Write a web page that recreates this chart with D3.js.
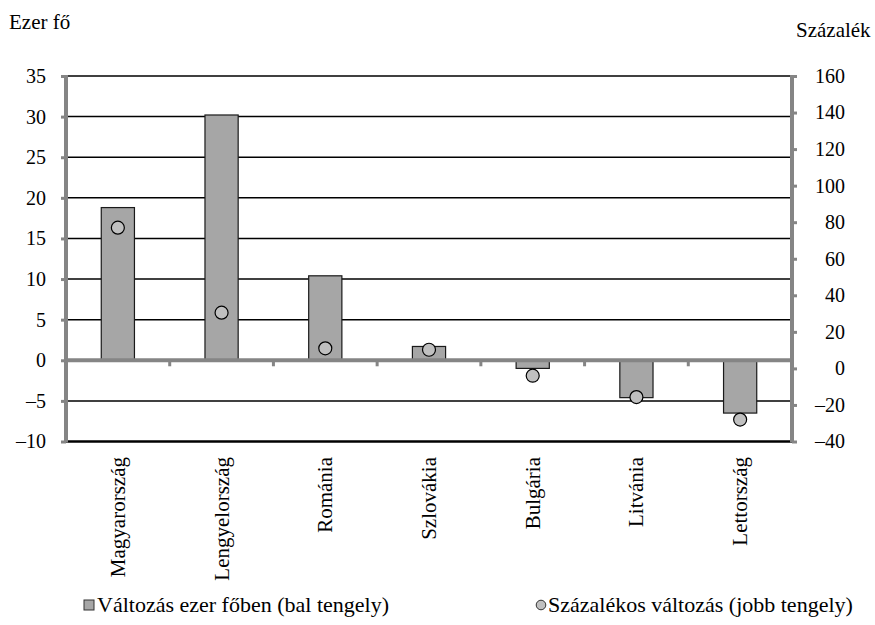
<!DOCTYPE html>
<html>
<head>
<meta charset="utf-8">
<script src="https://cdn.jsdelivr.net/npm/d3@7"></script>
<style>
  body { margin: 0; background: #fff; }
  svg text { font-family: "Liberation Serif", "DejaVu Serif", "Times New Roman", serif; fill: #000; }
</style>
</head>
<body>
<div id="graph"></div>
<script>
const countries = ["Magyarország", "Lengyelország", "Románia", "Szlovákia", "Bulgária", "Litvánia", "Lettország"];
const changeThousand = [18.8, 30.2, 10.4, 1.7, -1.0, -4.6, -6.5];
const changePercent = [77, 30.5, 11, 10.2, -4, -15.7, -28];
const leftTicks = [35, 30, 25, 20, 15, 10, 5, 0, -5, -10];
const rightTicks = [160, 140, 120, 100, 80, 60, 40, 20, 0, -20, -40];

const width = 875, height = 625;
const plotLeft = 66, plotRight = 792, plotTop = 76, plotBottom = 441.5;
const axisGray = "#858585";
const serif = "'Liberation Serif', 'DejaVu Serif', serif";
const fs = 20;

const svg = d3.select("#graph").append("svg").attr("width", width).attr("height", height)
  .style("font-family", serif);

const x = d3.scaleBand().domain(countries).range([plotLeft, plotRight]).paddingInner(0).paddingOuter(0);
const yL = d3.scaleLinear().domain([-10, 35]).range([plotBottom, plotTop]);
const yR = d3.scaleLinear().domain([-40, 160]).range([plotBottom, plotTop]);

const minus = v => String(v).replace("-", "\u2013");

// gridlines
svg.append("g").selectAll("line").data(leftTicks.filter(d => d !== 0)).enter().append("line")
  .attr("x1", plotLeft).attr("x2", plotRight)
  .attr("y1", d => yL(d)).attr("y2", d => yL(d))
  .attr("stroke", "#000").attr("stroke-width", d => d === -10 ? 2.5 : 1.5);

// bars
const bw = x.bandwidth() * 0.32;
svg.append("g").selectAll("rect").data(countries).enter().append("rect")
  .attr("x", d => x(d) + x.bandwidth() / 2 - bw / 2)
  .attr("width", bw)
  .attr("y", (d, i) => yL(Math.max(0, changeThousand[i])))
  .attr("height", (d, i) => Math.abs(yL(changeThousand[i]) - yL(0)))
  .attr("fill", "#a6a6a6").attr("stroke", "#1a1a1a").attr("stroke-width", 1.2);

// zero axis line
svg.append("line").attr("x1", plotLeft).attr("x2", plotRight).attr("y1", yL(0)).attr("y2", yL(0))
  .attr("stroke", axisGray).attr("stroke-width", 4);

// category ticks
svg.append("g").selectAll("line").data(countries.slice(1)).enter().append("line")
  .attr("x1", d => x(d)).attr("x2", d => x(d))
  .attr("y1", yL(0)).attr("y2", yL(0) + 6)
  .attr("stroke", axisGray).attr("stroke-width", 3);

// left axis
const yAxisL = d3.axisLeft(yL).tickValues(leftTicks).tickSize(5).tickPadding(15).tickFormat(minus);
const gL = svg.append("g").attr("transform", "translate(" + plotLeft + ",0)").call(yAxisL)
  .attr("font-family", serif).attr("font-size", fs);
gL.select(".domain").attr("stroke", axisGray).attr("stroke-width", 4).attr("d", "M0," + (plotTop - 1) + "V" + (plotBottom + 1));
gL.selectAll(".tick line").attr("stroke", axisGray).attr("stroke-width", 3);

// right axis
const yAxisR = d3.axisRight(yR).tickValues(rightTicks).tickSize(5).tickPadding(10).tickFormat(minus);
const gR = svg.append("g").attr("transform", "translate(" + plotRight + ",0)").call(yAxisR)
  .attr("font-family", serif).attr("font-size", fs);
gR.select(".domain").attr("stroke", axisGray).attr("stroke-width", 4).attr("d", "M0," + (plotTop - 1) + "V" + (plotBottom + 1));
gR.selectAll(".tick line").attr("stroke", axisGray).attr("stroke-width", 3);
gR.selectAll(".tick text").attr("text-anchor", "end").attr("x", 53);

// percent points
svg.append("g").selectAll("circle").data(countries).enter().append("circle")
  .attr("cx", d => x(d) + x.bandwidth() / 2)
  .attr("cy", (d, i) => yR(changePercent[i]))
  .attr("r", 6.5)
  .attr("fill", "#c0c0c0").attr("stroke", "#000").attr("stroke-width", 1.2);

// category labels
svg.append("g").selectAll("text").data(countries).enter().append("text")
  .attr("transform", d => "translate(" + (x(d) + x.bandwidth() / 2 + 7) + "," + 457 + ") rotate(-90)")
  .attr("text-anchor", "end")
  .attr("font-size", 21)
  .text(d => d);

// axis titles
svg.append("text").attr("x", 9).attr("y", 29).attr("font-size", 21).text("Ezer fő");
svg.append("text").attr("x", 796).attr("y", 37).attr("font-size", 21).text("Százalék");

// legend
const lg = svg.append("g").attr("transform", "translate(0,612)");
lg.append("rect").attr("x", 84).attr("y", -12).attr("width", 10).attr("height", 10)
  .attr("fill", "#a6a6a6").attr("stroke", "#333").attr("stroke-width", 1);
lg.append("text").attr("x", 97).attr("y", 0).attr("font-size", 22).text("Változás ezer főben (bal tengely)");
lg.append("circle").attr("cx", 541).attr("cy", -7).attr("r", 4.8)
  .attr("fill", "#c0c0c0").attr("stroke", "#333").attr("stroke-width", 1);
lg.append("text").attr("x", 548).attr("y", 0).attr("font-size", 22).text("Százalékos változás (jobb tengely)");
</script>
</body>
</html>
